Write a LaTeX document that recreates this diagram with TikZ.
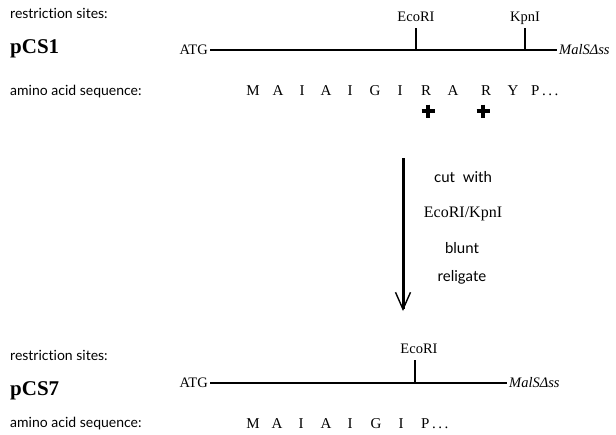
\documentclass[tikz,border=0pt]{standalone}
\usepackage{fontspec}
\setmainfont{Liberation Serif}
\newfontfamily\labelfont[Ligatures=NoCommon]{Lato}
\usetikzlibrary{arrows.meta}

\tikzset{
    lbl/.style={font=\labelfont\fontsize{14}{16}\selectfont, anchor=base west, inner sep=0pt},
    plasmid/.style={font=\bfseries\fontsize{21}{23}\selectfont, anchor=base west, inner sep=0pt},
    aa/.style={font=\fontsize{15}{17}\selectfont, anchor=base, inner sep=0pt},
    genetxt/.style={font=\fontsize{14.5}{16}\selectfont, inner sep=2pt},
    site/.style={font=\fontsize{14.5}{16}\selectfont, anchor=base, inner sep=0pt, yshift=7pt},
    steptxt/.style={font=\labelfont\fontsize{15}{17}\selectfont, anchor=base, inner sep=0pt},
    gene/.style={line width=2.4pt},
    cutsite/.style={line width=2pt},
    plusmark/.style={line width=4pt},
}

\begin{document}
\begin{tikzpicture}[x=1pt,y=-1pt]
\useasboundingbox (0,0) rectangle (616,434);

% Top construct: pCS1.
\node[lbl] (sites1) at (10,18) {restriction sites:};
\node[plasmid] (pcs1) at (10,53) {pCS1};
\node[lbl] (aalbl1) at (10,95) {amino acid sequence:};

% gene line with its two ends
\node[genetxt,anchor=east] (atg1) at (210,50) {ATG};
\node[genetxt,anchor=west] (mal1) at (557,50) {\itshape MalSΔss};
\draw[gene] (atg1.east) -- (mal1.west);

% restriction sites on pCS1
\coordinate (eco1) at (416,50);
\coordinate (kpn1) at (525,50);
\draw[cutsite] (eco1) -- ++(0,-22) node[site] (ecolbl1) {EcoRI};
\draw[cutsite] (kpn1) -- ++(0,-22) node[site] (kpnlbl1) {KpnI};

% amino acids of pCS1
\foreach \x/\a [count=\i] in {253/M,278/A,302/I,326/A,350/I,375/G,400/I,426/R,453/A,486/R,513/Y} {
    \node[aa] (seqa\i) at (\x,95) {\a};
}
\node[aa,anchor=base west] (seqaend) at (531,95) {P\,.\,.\,.};

% the two arginines that go
\foreach \x in {428,483} {
    \draw[plusmark] (\x-6.5,111) -- (\x+6.5,111);
    \draw[plusmark] (\x,104.5) -- (\x,117.5);
}

% Cloning step.
\coordinate (arrtop) at (403,158);
\coordinate (arrbot) at (403,311);
\draw[line width=3pt,-{Straight Barb[length=17pt,width=15pt,line width=1.4pt]}] (arrtop) -- (arrbot);

\node[steptxt] (step1) at (463,182) {cut\ \ with};
\node[steptxt,font=\fontsize{16}{18}\selectfont] (step2) at (463,217) {EcoRI/KpnI};
\node[steptxt] (step3) at (462,253) {blunt};
\node[steptxt] (step4) at (462,281) {religate};

% Bottom construct: pCS7.
\node[lbl] (sites2) at (10,360) {restriction sites:};
\node[plasmid] (pcs7) at (10,395) {pCS7};
\node[lbl] (aalbl2) at (10,427) {amino acid sequence:};

\node[genetxt,anchor=east] (atg2) at (210,383) {ATG};
\node[genetxt,anchor=west] (mal2) at (507,383) {\itshape MalSΔss};
\draw[gene] (atg2.east) -- (mal2.west);

\coordinate (eco2) at (415,383);
\draw[cutsite] (eco2) -- ++(0,-23) node[site,xshift=4pt] (ecolbl2) {EcoRI};

% amino acids of pCS7
\foreach \x/\a [count=\i] in {253/M,277/A,301/I,326/A,350/I,376/G,401/I} {
    \node[aa] (seqb\i) at (\x,428) {\a};
}
\node[aa,anchor=base west] (seqbend) at (421,428) {P\,.\,.\,.};

\end{tikzpicture}
\end{document}
